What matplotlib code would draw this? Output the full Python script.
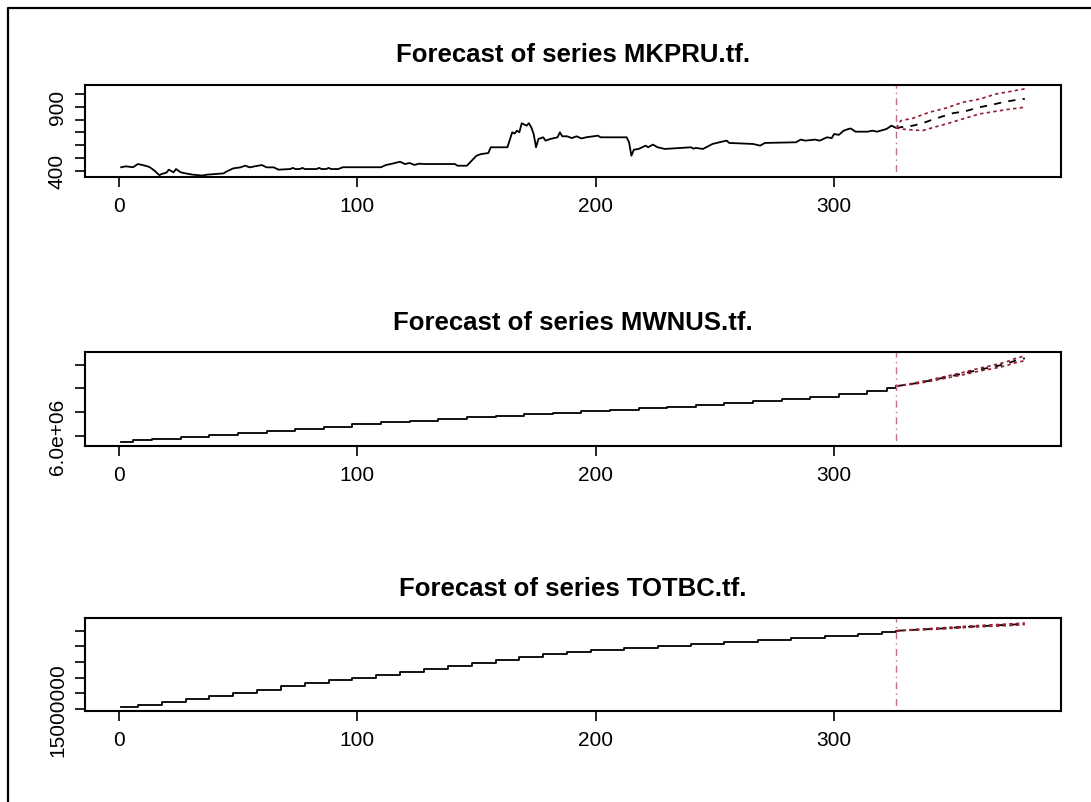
import matplotlib.pyplot as plt
from matplotlib.lines import Line2D

plt.rcParams['font.family'] = ['Liberation Sans', 'DejaVu Sans']

n_hist = 326

# MKPRU (market price) history
mkpru_t = [1, 3, 6, 8, 10, 12, 13, 15, 17, 18, 20, 21, 23, 24, 26, 28, 31, 35, 37,
           44, 45, 48, 51, 53, 55, 57, 60, 62, 65, 67, 72, 73, 74, 76, 77, 78, 83,
           84, 85, 87, 88, 89, 92, 94, 110, 112, 114, 118, 120, 122, 124, 126, 128,
           141, 142, 146, 148, 150, 152, 155, 156, 163, 165, 166, 167, 168, 169,
           171, 172, 173, 174, 175, 176, 178, 179, 181, 184, 185, 186, 188, 190,
           192, 194, 196, 201, 202, 213, 214, 215, 216, 218, 221, 222, 224, 226,
           229, 240, 241, 242, 245, 249, 253, 255, 256, 266, 269, 271, 284, 286,
           288, 292, 294, 297, 299, 300, 302, 304, 306, 307, 309, 314, 316, 318,
           322, 324, 326]
mkpru_v = [427, 434, 427, 452, 444, 434, 427, 400, 365, 374, 385, 408, 387, 413, 387,
           379, 369, 362, 369, 379, 392, 418, 426, 439, 426, 434, 444, 426, 426, 408,
           413, 422, 413, 413, 422, 413, 413, 422, 413, 413, 422, 413, 413, 427, 427,
           444, 452, 470, 452, 460, 445, 455, 452, 452, 439, 439, 478, 517, 530, 538,
           583, 583, 700, 690, 713, 700, 771, 752, 771, 739, 687, 583, 648, 661, 635,
           648, 661, 700, 669, 669, 655, 669, 652, 661, 674, 661, 661, 622, 517, 564,
           570, 596, 583, 604, 583, 570, 583, 572, 578, 570, 609, 627, 635, 617, 609,
           596, 617, 622, 643, 635, 643, 635, 661, 655, 687, 680, 713, 726, 730, 705,
           705, 713, 705, 726, 752, 735]
mkpru_fc_t = [326, 330, 333, 337, 340, 345, 350, 355, 361, 366, 372, 377, 380]
mkpru_fc = [735, 745, 752, 770, 791, 822, 850, 865, 896, 915, 940, 955, 962]
mkpru_hi_t = [326, 328, 333, 340, 347, 354, 361, 368, 374, 380]
mkpru_hi = [735, 791, 810, 857, 890, 935, 960, 1000, 1020, 1040]
mkpru_lo_t = [326, 328, 332, 337, 342, 347, 354, 361, 368, 374, 380]
mkpru_lo = [735, 726, 720, 713, 740, 765, 805, 844, 865, 882, 896]

# MWNUS (wallet users) history, stair steps
mwnus_t = [1, 6, 14, 26, 38, 50, 62, 74, 86, 98, 110, 122, 134, 146, 158, 170, 182,
           194, 206, 218, 230, 242, 254, 266, 278, 290, 302, 314, 322, 326]
mwnus_v = [5.75, 5.80, 5.87, 5.95, 6.02, 6.10, 6.19, 6.29, 6.38, 6.48, 6.56, 6.64,
           6.71, 6.78, 6.85, 6.91, 6.97, 7.03, 7.09, 7.16, 7.23, 7.31, 7.38, 7.46,
           7.55, 7.64, 7.76, 7.88, 8.02, 8.10]
mwnus_fc_t = [326, 333, 340, 347, 354, 361, 366, 372, 376, 380]
mwnus_fc = [8.10, 8.20, 8.33, 8.48, 8.63, 8.80, 8.90, 9.04, 9.18, 9.28]
mwnus_hi = [8.10, 8.22, 8.36, 8.52, 8.68, 8.86, 8.97, 9.12, 9.27, 9.38]
mwnus_lo = [8.10, 8.18, 8.30, 8.44, 8.58, 8.74, 8.83, 8.96, 9.09, 9.18]

# TOTBC (total bitcoins) history, stair steps
totbc_t = [1, 8, 18, 28, 38, 48, 58, 68, 78, 88, 98, 108, 118, 128, 138, 148, 158,
           168, 178, 188, 198, 212, 226, 240, 254, 268, 282, 296, 310, 320, 326]
totbc_v = [15.025, 15.05, 15.09, 15.13, 15.17, 15.21, 15.25, 15.29, 15.33, 15.37,
           15.40, 15.44, 15.48, 15.51, 15.55, 15.59, 15.63, 15.66, 15.70, 15.73,
           15.755, 15.78, 15.81, 15.83, 15.86, 15.88, 15.91, 15.93, 15.96, 15.98, 16.00]
totbc_fc_t = [326, 335, 345, 355, 365, 375, 380]
totbc_fc = [16.00, 16.015, 16.03, 16.05, 16.065, 16.08, 16.09]
totbc_hi = [16.00, 16.02, 16.038, 16.058, 16.075, 16.09, 16.10]
totbc_lo = [16.00, 16.01, 16.024, 16.042, 16.057, 16.07, 16.08]

fig = plt.figure(figsize=(10.91, 8.03), dpi=100)
fig.patch.set_facecolor('white')

# outer frame (cut at right and bottom)
fig.add_artist(Line2D([7.5 / 1091, 7.5 / 1091, 1.0], [0.0, 1 - 9 / 803, 1 - 9 / 803],
                      transform=fig.transFigure, color='black', lw=1.6))

left = 85 / 1091
width = (1061 - 85) / 1091
rows = [(177.7, 91.7), (446.7, 93.4), (711.7, 92.4)]
axes = [fig.add_axes([left, 1 - b / 803, width, h / 803]) for b, h in rows]

ci_col = '#8e1b30'
vl_col = '#c0708c'


def panel(ax, t, v, fc_t, fc, hi_t, hi, lo_t, lo, title, ylim, yticks, ylabels, steps=False):
    ax.plot(t, v, color='black', lw=1.3, drawstyle='steps-post' if steps else 'default')
    ax.plot(fc_t, fc, color='black', lw=1.3, dashes=(4, 4))
    ax.plot(hi_t, hi, color=ci_col, lw=1.2, dashes=(2, 2))
    ax.plot(lo_t, lo, color=ci_col, lw=1.2, dashes=(2, 2))
    ax.axvline(n_hist, color=vl_col, lw=1.0, dashes=(1, 3, 5, 3))
    ax.set_xlim(-14.16, 395.16)
    ax.set_ylim(*ylim)
    ax.set_xticks([0, 100, 200, 300])
    ax.set_xticklabels(['0', '100', '200', '300'])
    ax.set_yticks(yticks)
    ax.set_yticklabels(ylabels, rotation=90, va='center')
    ax.tick_params(direction='out', length=7, width=1.2, labelsize=15)
    ax.tick_params(axis='x', pad=7)
    ax.tick_params(axis='y', pad=6)
    for s in ax.spines.values():
        s.set_linewidth(1.5)
    ax.set_title(title, fontsize=18.5, fontweight='bold', pad=17)


panel(axes[0], mkpru_t, mkpru_v, mkpru_fc_t, mkpru_fc, mkpru_hi_t, mkpru_hi,
      mkpru_lo_t, mkpru_lo, 'Forecast of series MKPRU.tf.', (353, 1070),
      [400, 500, 600, 700, 800, 900, 1000], ['400', '', '', '', '', '900', ''])

panel(axes[1], mwnus_t, mwnus_v, mwnus_fc_t, mwnus_fc, mwnus_fc_t, mwnus_hi,
      mwnus_fc_t, mwnus_lo, 'Forecast of series MWNUS.tf.', (5.576, 9.534),
      [6, 7, 8, 9], ['6.0e+06', '', '', ''], steps=True)

panel(axes[2], totbc_t, totbc_v, totbc_fc_t, totbc_fc, totbc_fc_t, totbc_hi,
      totbc_fc_t, totbc_lo, 'Forecast of series TOTBC.tf.', (14.98, 16.16),
      [15.0, 15.2, 15.4, 15.6, 15.8, 16.0], ['15000000', '', '', '', '', ''], steps=True)

fig.savefig('out.png', dpi=100, facecolor='white')
